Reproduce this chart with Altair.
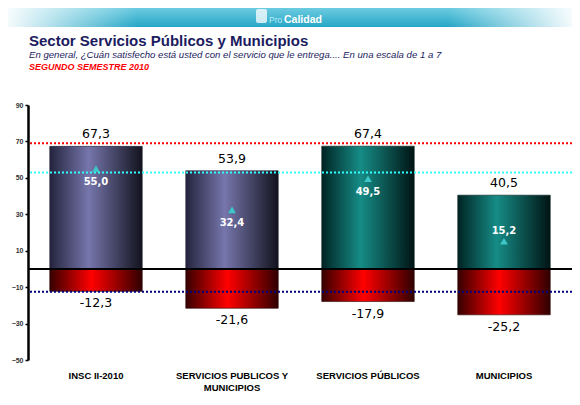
import altair as alt
import pandas as pd

categories = ["INSC II-2010", "SERVICIOS PUBLICOS Y MUNICIPIOS", "SERVICIOS PÚBLICOS", "MUNICIPIOS"]
satisfied = [67.3, 53.9, 67.4, 40.5]
dissatisfied = [-12.3, -21.6, -17.9, -25.2]
net = [55.0, 32.4, 49.5, 15.2]
group = ["general", "general", "sector", "sector"]
ref_values = [69.0, 53.0, -12.5]
ref_names = ["max", "net", "min"]
y_ticks = [90, 70, 50, 30, 10, -10, -30, -50]

title_text = ["Sector Servicios Públicos y Municipios"]
subtitle_text = ["En general, ¿Cuán satisfecho está usted con el servicio que le entrega....  En una escala de 1 a 7"]
period_text = ["SEGUNDO SEMESTRE 2010"]
brand_a = ["Pro"]
brand_b = ["Calidad"]


def fmt(v):
    return f"{v:.1f}".replace(".", ",")


df = pd.DataFrame({
    "cat": categories,
    "pos": satisfied,
    "neg": dissatisfied,
    "net": net,
    "group": group,
    "pos_l": [fmt(v) for v in satisfied],
    "neg_l": [fmt(v) for v in dissatisfied],
    "net_l": [fmt(v) for v in net],
})
ref_df = pd.DataFrame({"v": ref_values, "name": ref_names})
zero_df = pd.DataFrame({"z": [0]})


def grad(stops, vertical=False):
    return alt.Gradient(
        gradient="linear",
        x1=0, y1=0,
        x2=0 if vertical else 1,
        y2=1 if vertical else 0,
        stops=[alt.GradientStop(offset=o, color=c) for o, c in stops],
    )


blue_grad = grad([(0, "#24243e"), (0.42, "#7676ac"), (1, "#12121e")])
teal_grad = grad([(0, "#002424"), (0.42, "#168c86"), (1, "#001414")])
red_grad = grad([(0, "#360000"), (0.45, "#ff0000"), (1, "#300000")])
banner_grad = grad([(0, "#6ccbe0"), (1, "#26a6c6")], vertical=True)
fade_left = grad([(0, "rgba(255,255,255,0.95)"), (1, "rgba(255,255,255,0)")])
fade_right = grad([(0, "rgba(255,255,255,0)"), (1, "rgba(255,255,255,0.95)")])

label_expr = ("datum.label == 'SERVICIOS PUBLICOS Y MUNICIPIOS' ? "
              "['SERVICIOS PUBLICOS Y', 'MUNICIPIOS'] : datum.label")

x_enc = alt.X(
    "cat:N", sort=categories,
    scale=alt.Scale(paddingInner=0.32, paddingOuter=0.16),
    axis=alt.Axis(title=None, labelAngle=0, domain=False, ticks=False,
                  labelPadding=10, labelFont="Liberation Sans",
                  labelFontWeight="bold", labelFontSize=9.5,
                  labelColor="black", labelExpr=label_expr,
                  labelLineHeight=12, labelBaseline="top"),
)
y_scale = alt.Scale(domain=[-50, 90], nice=False)
y_axis = alt.Axis(values=y_ticks, title=None, grid=False, domainColor="black",
                  domainWidth=2.5, tickColor="black", tickSize=3, tickWidth=1.5,
                  labelFontSize=7, labelFontWeight="bold", labelColor="#333333",
                  labelPadding=2, labelFont="Liberation Sans")

base = alt.Chart(df)

blue_bars = base.transform_filter(alt.datum.group == "general").mark_bar(
    color=blue_grad, stroke="#1a1a2a", strokeWidth=0.6
).encode(x=x_enc, y=alt.Y("pos:Q", scale=y_scale, axis=y_axis, stack=None), y2=alt.datum(0))

teal_bars = base.transform_filter(alt.datum.group == "sector").mark_bar(
    color=teal_grad, stroke="#001a1a", strokeWidth=0.6
).encode(x=x_enc, y=alt.Y("pos:Q", scale=y_scale, axis=y_axis, stack=None), y2=alt.datum(0))

red_bars = base.mark_bar(color=red_grad, stroke="#2a0000", strokeWidth=0.6).encode(
    x=x_enc, y=alt.Y("neg:Q", scale=y_scale, axis=y_axis, stack=None), y2=alt.datum(0))

ref_rules = alt.Chart(ref_df).mark_rule(strokeDash=[2, 2], strokeWidth=2).encode(
    y=alt.Y("v:Q", scale=y_scale, axis=y_axis),
    color=alt.Color("name:N", scale=alt.Scale(domain=ref_names,
                                              range=["#ff0000", "#33ffff", "#000080"]),
                    legend=None),
)

zero_rule = alt.Chart(zero_df).mark_rule(color="black", strokeWidth=2).encode(
    y=alt.Y("z:Q", scale=y_scale, axis=y_axis))

triangles = base.mark_point(shape="triangle-up", filled=True, color="#3cc8c8",
                            size=60, opacity=1).encode(
    x=x_enc, y=alt.Y("net:Q", scale=y_scale, axis=y_axis))

net_below = base.transform_filter(alt.datum.cat != "MUNICIPIOS").mark_text(
    color="white", fontWeight="bold", fontSize=10, font="DejaVu Sans",
    baseline="middle", dy=13).encode(
    x=x_enc, y=alt.Y("net:Q", scale=y_scale, axis=y_axis), text="net_l:N")

net_above = base.transform_filter(alt.datum.cat == "MUNICIPIOS").mark_text(
    color="white", fontWeight="bold", fontSize=10, font="DejaVu Sans",
    baseline="middle", dy=-10).encode(
    x=x_enc, y=alt.Y("net:Q", scale=y_scale, axis=y_axis), text="net_l:N")

top_labels = base.mark_text(baseline="bottom", dy=-5, fontSize=12.5,
                            font="DejaVu Sans", color="black").encode(
    x=x_enc, y=alt.Y("pos:Q", scale=y_scale, axis=y_axis), text="pos_l:N")

bottom_labels = base.mark_text(baseline="top", dy=6, fontSize=12.5,
                               font="DejaVu Sans", color="black").encode(
    x=x_enc, y=alt.Y("neg:Q", scale=y_scale, axis=y_axis), text="neg_l:N")

# header decorations
one = pd.DataFrame({"k": [0]})
banner = alt.Chart(one).mark_rect(color=banner_grad).encode(
    x=alt.value(-20), x2=alt.value(544), y=alt.value(-97), y2=alt.value(-78))
fade_l = alt.Chart(one).mark_rect(color=fade_left).encode(
    x=alt.value(-20), x2=alt.value(110), y=alt.value(-97), y2=alt.value(-78))
fade_r = alt.Chart(one).mark_rect(color=fade_right).encode(
    x=alt.value(420), x2=alt.value(544), y=alt.value(-97), y2=alt.value(-78))
icon = alt.Chart(one).mark_rect(color="white", opacity=0.75, cornerRadius=2).encode(
    x=alt.value(228), x2=alt.value(239), y=alt.value(-96), y2=alt.value(-82))
brand1 = alt.Chart(pd.DataFrame({"t": brand_a})).mark_text(
    align="left", baseline="alphabetic", font="Liberation Sans", fontSize=8.5,
    color="#b8ecf6").encode(x=alt.value(241), y=alt.value(-82), text="t:N")
brand2 = alt.Chart(pd.DataFrame({"t": brand_b})).mark_text(
    align="left", baseline="alphabetic", font="Liberation Sans", fontSize=10.5,
    fontWeight="bold", color="white").encode(x=alt.value(256), y=alt.value(-82), text="t:N")

title = alt.Chart(pd.DataFrame({"t": title_text})).mark_text(
    align="left", baseline="alphabetic", font="Liberation Sans", fontSize=15,
    fontWeight="bold", color="#1b1b5e").encode(x=alt.value(1), y=alt.value(-59), text="t:N")
subtitle = alt.Chart(pd.DataFrame({"t": subtitle_text})).mark_text(
    align="left", baseline="alphabetic", font="Liberation Sans", fontSize=9.6,
    fontStyle="italic", color="#1b1b5e").encode(x=alt.value(1), y=alt.value(-47), text="t:N")
period = alt.Chart(pd.DataFrame({"t": period_text})).mark_text(
    align="left", baseline="alphabetic", font="Liberation Sans", fontSize=9,
    fontStyle="italic", fontWeight="bold", color="#ff0000").encode(
    x=alt.value(1), y=alt.value(-35), text="t:N")

chart = alt.layer(
    blue_bars, teal_bars, red_bars, zero_rule, ref_rules, triangles,
    net_below, net_above, top_labels, bottom_labels,
    banner, fade_l, fade_r, icon, brand1, brand2, title, subtitle, period,
).properties(
    width=544, height=255,
    padding={"left": 20, "top": 97, "right": 0, "bottom": 37},
    autosize=alt.AutoSizeParams(type="none"),
    background="white",
).configure_view(stroke=None)

chart.save("out.html", embed_options={"renderer": "svg", "actions": False})
